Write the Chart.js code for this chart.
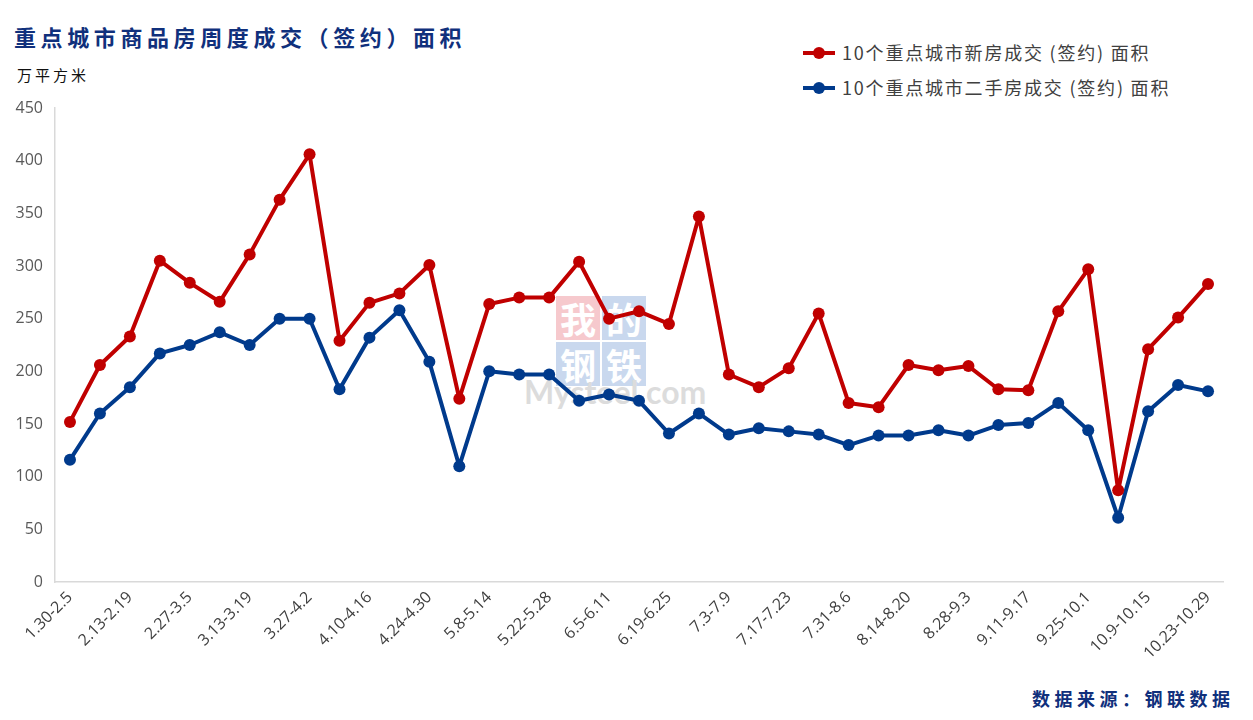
<!DOCTYPE html>
<html>
<head>
<meta charset="utf-8">
<script src="https://cdn.jsdelivr.net/npm/chart.js@4.4.0/dist/chart.umd.min.js"></script>
<style>
    body{margin:0;background:#fff;width:1253px;height:720px;overflow:hidden;position:relative;font-family:"Noto Sans CJK SC","Noto Sans",sans-serif;}
    #chart{position:absolute;left:0;top:0;z-index:2;}
    .title{position:absolute;left:14px;top:22px;font-size:22px;font-weight:bold;color:#10307c;letter-spacing:4.6px;line-height:28px;}
    .unit{position:absolute;left:17px;top:64px;font-size:15px;color:#111;letter-spacing:3px;line-height:22px;}
    .legend{position:absolute;left:803px;font-size:18px;color:#404040;line-height:24px;letter-spacing:1.8px;}
    .legend .mk{display:inline-block;position:relative;width:32px;height:4px;vertical-align:middle;margin-right:7px;top:-2px;}
    .legend .mk i{position:absolute;left:10px;top:-4px;width:12px;height:12px;border-radius:6px;}
    .source{position:absolute;left:1032px;top:685px;font-size:18px;font-weight:bold;color:#10307c;letter-spacing:4.5px;}
    .wm{position:absolute;z-index:1;font-weight:bold;}
    .wm .box{position:absolute;width:44px;height:44px;font-size:36px;line-height:44px;text-align:center;color:#fff;}
</style>
</head>
<body>
<div class="title">重点城市商品房周度成交（签约）面积</div>
<div class="unit">万平方米</div>
<div class="legend" style="top:40px;"><span class="mk" style="background:#c00000"><i style="background:#c00000"></i></span>10个重点城市新房成交 (签约) 面积</div>
<div class="legend" style="top:75px;"><span class="mk" style="background:#003a8c"><i style="background:#003a8c"></i></span>10个重点城市二手房成交 (签约) 面积</div>
<div class="source">数据来源：钢联数据</div>
<div class="wm" style="left:556px;top:296px;">
    <div class="box" style="left:0;top:0;background:#f6c9cd;">我</div>
    <div class="box" style="left:46px;top:0;background:#c9d8ee;">的</div>
    <div class="box" style="left:0;top:46px;background:#c9d8ee;">钢</div>
    <div class="box" style="left:46px;top:46px;background:#c9d8ee;">铁</div>
    <div style="position:absolute;left:-32px;top:76px;font-family:Lato,sans-serif;font-size:32px;color:#dcdcdc;white-space:nowrap;">Mysteel.com</div>
</div>
<canvas id="chart" width="1253" height="720"></canvas>
<script>
var weekLabels = ["1.30-2.5","2.6-2.12","2.13-2.19","2.20-2.26","2.27-3.5","3.6-3.12","3.13-3.19","3.20-3.26","3.27-4.2","4.3-4.9",
    "4.10-4.16","4.17-4.23","4.24-4.30","5.1-5.7","5.8-5.14","5.15-5.21","5.22-5.28","5.29-6.4","6.5-6.11","6.12-6.18",
    "6.19-6.25","6.26-7.2","7.3-7.9","7.10-7.16","7.17-7.23","7.24-7.30","7.31-8.6","8.7-8.13","8.14-8.20","8.21-8.27",
    "8.28-9.3","9.4-9.10","9.11-9.17","9.18-9.24","9.25-10.1","10.2-10.8","10.9-10.15","10.16-10.22","10.23-10.29"];
//新房
var newHouse = [152,206,233,305,284,266,311,363,406,229,
    265,274,301,174,264,270,270,304,250,257,
    245,347,197,185,203,255,170,166,206,201,
    205,183,182,257,297,87,221,251,283];
//二手房
var secondHouse = [116,160,185,217,225,237,225,250,250,183,
    232,258,209,110,200,197,197,172,178,172,
    141,160,140,146,143,140,130,139,139,144,
    139,149,151,170,144,61,162,187,181];
var yTicks = [0,50,100,150,200,250,300,350,400,450];

var ctx = document.getElementById("chart").getContext("2d");
var chart = new Chart(ctx, {
    type: "line",
    data: {
        labels: weekLabels,
        datasets: [
            {
                label: "10个重点城市新房成交 (签约) 面积",
                data: newHouse,
                borderColor: "#c00000",
                backgroundColor: "#c00000",
                borderWidth: 4,
                borderJoinStyle: "round",
                pointRadius: 6,
                pointBorderWidth: 0,
                tension: 0
            },
            {
                label: "10个重点城市二手房成交 (签约) 面积",
                data: secondHouse,
                borderColor: "#003a8c",
                backgroundColor: "#003a8c",
                borderWidth: 4,
                borderJoinStyle: "round",
                pointRadius: 6,
                pointBorderWidth: 0,
                tension: 0
            }
        ]
    },
    options: {
        responsive: false,
        animation: false,
        layout: { padding: { left: 0, right: 30, top: 108, bottom: 0 } },
        plugins: { legend: { display: false }, title: { display: false }, tooltip: { enabled: false } },
        scales: {
            x: {
                offset: true,
                grid: { display: false, drawTicks: false },
                border: { color: "#d9d9d9", width: 1.5 },
                ticks: {
                    autoSkip: false,
                    maxRotation: 45,
                    minRotation: 45,
                    padding: 6,
                    color: "#404040",
                    font: { family: "'Open Sans', 'Liberation Sans', sans-serif", size: 16 },
                    callback: function (v, i) { return i % 2 === 0 ? weekLabels[i] : ""; }
                },
                afterFit: function (scale) { scale.height = 138; }
            },
            y: {
                min: 0,
                max: 450,
                afterBuildTicks: function (scale) { scale.ticks = yTicks.map(function (v) { return { value: v }; }); },
                grid: { display: false, drawTicks: false },
                border: { color: "#d9d9d9", width: 1.5 },
                ticks: {
                    padding: 12,
                    color: "#595959",
                    font: { family: "'Open Sans', 'Liberation Sans', sans-serif", size: 16 }
                },
                afterFit: function (scale) { scale.width = 55; }
            }
        }
    }
});
</script>
</body>
</html>
